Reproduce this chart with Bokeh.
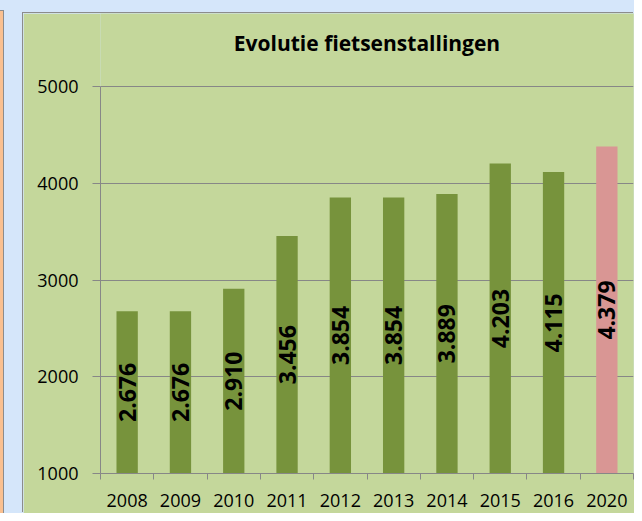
import numpy as np
from bokeh.plotting import figure
from bokeh.models import ColumnDataSource, FixedTicker, Range1d, Label
from bokeh.layouts import column
from bokeh.embed import file_html
from bokeh.resources import INLINE
from bokeh.core.properties import value

# ---- data ----
years = ["2008", "2009", "2010", "2011", "2012", "2013", "2014", "2015", "2016", "2020"]
counts = [2676, 2676, 2910, 3456, 3854, 3854, 3889, 4203, 4115, 4379]
bar_colors = ["#77933C"] * 9 + ["#D99694"]
y_ticks = [1000, 2000, 3000, 4000, 5000]
y_min, y_max = 1000, 5000
title_text = "Evolutie fietsenstallingen"

FONT = "Open Sans"
GRAY = "#878787"
PANEL = "#C4D79B"

# layout geometry (pixels)
FIG_W, FIG_H = 611, 500
BORDER_L, BORDER_R, BORDER_B = 77, 1, 40
AXIS_PX = 387          # pixel height of the 1000..5000 axis
HEAD_PX = 73           # space above the 5000 line, inside the frame (holds the title)
frame_h = FIG_H - BORDER_B
y_end = y_max + HEAD_PX * (y_max - y_min) / AXIS_PX
y_start = y_min - (frame_h - HEAD_PX - AXIS_PX) * (y_max - y_min) / AXIS_PX

xs = [i + 0.5 for i in range(len(years))]
labels = [f"{c:,}".replace(",", ".") for c in counts]
mids = [(y_min + c) / 2 for c in counts]
src = ColumnDataSource(dict(x=xs, top=counts, color=bar_colors, label=labels, mid=mids))

p = figure(width=FIG_W, height=FIG_H,
           x_range=Range1d(0, len(years)), y_range=Range1d(y_start, y_end),
           output_backend="svg", toolbar_location=None, title_location=None,
           margin=(13, 0, 0, 23),
           min_border_left=BORDER_L, min_border_right=BORDER_R, min_border_top=0,
           min_border_bottom=BORDER_B)
p.styles = {"box-shadow": "-1px -1px 0 0 #8C8C8C"}

p.background_fill_color = PANEL
p.border_fill_color = PANEL
p.outline_line_color = None

p.vbar(x="x", top="top", bottom=y_min, width=0.4, fill_color="color", line_color=None, source=src)
p.text(x="x", y="mid", text="label", angle=np.pi / 2, text_align="center", text_baseline="middle",
       text_font=value(FONT), text_font_style="bold", text_font_size="23px", text_color="black", source=src)

# title, inside the frame's head room above the 5000 line
p.add_layout(Label(x=len(years) / 2, y=y_max, y_offset=44, text=title_text,
                   text_align="center", text_baseline="alphabetic",
                   text_font=FONT, text_font_style="bold", text_font_size="21px",
                   text_color="black"))

# y axis
p.yaxis.ticker = FixedTicker(ticks=y_ticks, minor_ticks=[])
p.yaxis.bounds = (y_min, y_max)
p.yaxis.axis_line_color = GRAY
p.yaxis.major_tick_line_color = GRAY
p.yaxis.major_tick_out = 8
p.yaxis.major_tick_in = 0
p.yaxis.major_label_standoff = 14
p.yaxis.major_label_text_font = FONT
p.yaxis.major_label_text_font_size = "18px"
p.yaxis.major_label_text_color = "black"

# x axis: labels at centres, tick marks between categories
p.xaxis.ticker = FixedTicker(ticks=xs, minor_ticks=list(range(len(years) + 1)))
p.xaxis.major_label_overrides = {x: y for x, y in zip(xs, years)}
p.xaxis.axis_line_color = GRAY
p.xaxis.major_tick_line_color = None
p.xaxis.minor_tick_line_color = GRAY
p.xaxis.minor_tick_out = 6
p.xaxis.minor_tick_in = 0
p.xaxis.major_label_standoff = 14
p.xaxis.major_label_text_font = FONT
p.xaxis.major_label_text_font_size = "18px"
p.xaxis.major_label_text_color = "black"

p.xgrid.grid_line_color = None
p.ygrid.ticker = FixedTicker(ticks=y_ticks)
p.ygrid.grid_line_color = GRAY
p.ygrid.grid_line_width = 1

bg = ("linear-gradient(#8C8C8C, #8C8C8C) 0 10px / 4px 1px no-repeat, "
      "linear-gradient(to right, #FAC090 0px, #FAC090 3px, #8C8C8C 3px, #8C8C8C 4px) 0 11px / 4px 100% no-repeat, "
      "#D5E6FA")
layout = column(p, styles={"background": bg})

open("out.html", "w").write(file_html(layout, INLINE))
